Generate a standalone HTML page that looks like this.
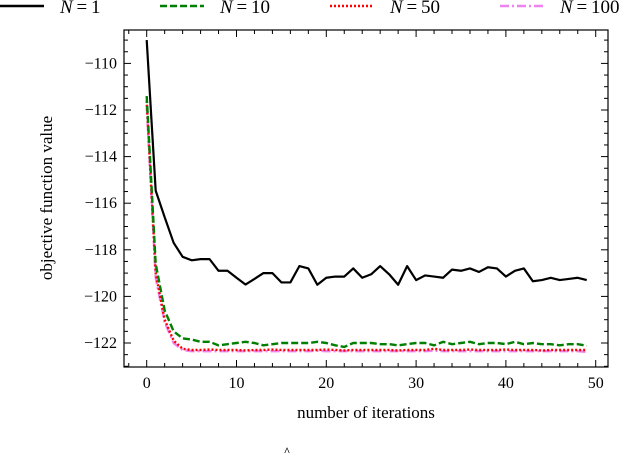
<!DOCTYPE html>
<html><head><meta charset="utf-8"><style>
body{margin:0;background:#fff;}
svg{display:block;font-family:"Liberation Serif",serif;}
</style></head><body>
<svg id="chart" width="640" height="453" viewBox="0 0 640 453" xmlns="http://www.w3.org/2000/svg"></svg>
<script>
const iterations = Array.from({length:50},(_,i)=>i);
const seriesN1 = [-109.0,-115.46,-116.6,-117.7,-118.3,-118.45,-118.4,-118.4,-118.9,-118.9,-119.2,-119.49,-119.25,-119.0,-119.0,-119.4,-119.4,-118.7,-118.8,-119.5,-119.2,-119.15,-119.15,-118.8,-119.2,-119.05,-118.7,-119.05,-119.5,-118.7,-119.3,-119.1,-119.15,-119.2,-118.85,-118.9,-118.8,-118.95,-118.75,-118.8,-119.15,-118.9,-118.8,-119.35,-119.3,-119.2,-119.3,-119.25,-119.2,-119.3];
const seriesN10 = [-111.4,-118.6,-120.6,-121.5,-121.8,-121.85,-121.95,-121.95,-122.1,-122.05,-122.0,-121.95,-122.0,-122.1,-122.05,-122.0,-122.0,-122.0,-122.0,-121.95,-122.0,-122.1,-122.17,-122.0,-122.0,-122.0,-122.05,-122.05,-122.1,-122.05,-122.0,-122.0,-122.1,-121.95,-122.05,-122.0,-121.95,-122.05,-122.0,-122.0,-122.05,-121.95,-122.05,-122.0,-122.05,-122.05,-122.1,-122.05,-122.05,-122.12];
const seriesN50 = [-111.6,-119.0,-121.0,-121.9,-122.25,-122.3,-122.3,-122.28,-122.3,-122.3,-122.3,-122.32,-122.3,-122.3,-122.28,-122.3,-122.3,-122.3,-122.3,-122.3,-122.28,-122.3,-122.32,-122.3,-122.3,-122.3,-122.3,-122.3,-122.32,-122.3,-122.3,-122.3,-122.25,-122.3,-122.3,-122.3,-122.28,-122.3,-122.3,-122.3,-122.28,-122.3,-122.3,-122.3,-122.32,-122.3,-122.3,-122.3,-122.3,-122.3];
const seriesN100 = [-111.8,-119.2,-121.1,-122.0,-122.3,-122.35,-122.35,-122.35,-122.35,-122.35,-122.35,-122.35,-122.35,-122.35,-122.35,-122.35,-122.35,-122.35,-122.35,-122.33,-122.35,-122.35,-122.35,-122.35,-122.35,-122.35,-122.35,-122.35,-122.35,-122.35,-122.35,-122.35,-122.33,-122.35,-122.35,-122.35,-122.35,-122.35,-122.35,-122.35,-122.35,-122.35,-122.35,-122.35,-122.35,-122.35,-122.35,-122.35,-122.35,-122.38];
const xTicks = [0,10,20,30,40,50];
const yTicks = [-110,-112,-114,-116,-118,-120,-122];
const legendLabels = ["1","10","50","100"];

const L=124,R=608,T=30,B=367;
const xs=v=>146.7+v*8.98;
const ys=v=>343-(v+122)*23.3;
const svg=document.getElementById('chart');
const NS='http://www.w3.org/2000/svg';
function mk(tag,attrs,parent){const e=document.createElementNS(NS,tag);for(const k in attrs)e.setAttribute(k,attrs[k]);(parent||svg).appendChild(e);return e;}

const frame=mk('rect',{x:L,y:T,width:R-L,height:B-T,fill:'none',stroke:'#000','stroke-width':1.2});



for(let v=-2;v<=52;v+=2){const x=xs(v);if(x<L||x>R)continue;const major=v%10===0;const len=major?7:4;
 mk('line',{x1:x,y1:B,x2:x,y2:B-len,stroke:'#000','stroke-width':1});
 mk('line',{x1:x,y1:T,x2:x,y2:T+len,stroke:'#000','stroke-width':1});}
xTicks.forEach(v=>{const t=mk('text',{x:xs(v),y:388,'text-anchor':'middle','font-size':16});t.textContent=v;
 
 });
for(let v=-123;v<=-108.5;v+=0.5){const y=ys(v);if(y<T||y>B)continue;const major=(v%2===0);const len=major?7:4;
 mk('line',{x1:L,y1:y,x2:L+len,y2:y,stroke:'#000','stroke-width':1});
 mk('line',{x1:R,y1:y,x2:R-len,y2:y,stroke:'#000','stroke-width':1});}
yTicks.forEach(v=>{const t=mk('text',{x:117,y:ys(v)+5,'text-anchor':'end','font-size':16});t.textContent='\u2212'+Math.abs(v);
 
 });

const xl=mk('text',{x:366,y:418,'text-anchor':'middle','font-size':17});xl.textContent='number of iterations';


const yl=mk('text',{x:52,y:198,'text-anchor':'middle','font-size':17,transform:'rotate(-90 52 198)'});yl.textContent='objective function value';


const hat=mk('text',{x:287,y:458,'text-anchor':'middle','font-size':16});hat.textContent='^';



const styles=[
 {c:'#000',d:'',w:2.2,name:'series-n1',data:seriesN1},
 {c:'#007f00',d:'7 3',w:2.4,name:'series-n10',data:seriesN10},
 {c:'#ff0000',d:'2 2',w:2.4,name:'series-n50',data:seriesN50},
 {c:'#ee82ee',d:'9 3 2 3',w:2.4,name:'series-n100',data:seriesN100}];
[3,2,1,0].forEach(i=>{const s=styles[i];
 const p=mk('polyline',{points:s.data.map((v,j)=>xs(iterations[j])+','+ys(v)).join(' '),fill:'none',stroke:s.c,'stroke-width':s.w,'stroke-dasharray':s.d,'stroke-linejoin':'round'});
 
 });

const lx=[0,160,330,500];
styles.forEach((s,i)=>{const g=mk('g',{});
 
 
 mk('line',{x1:lx[i],y1:6,x2:lx[i]+44,y2:6,stroke:s.c,'stroke-width':2.4,'stroke-dasharray':s.d},g);
 const t=mk('text',{x:lx[i]+60,y:13,'font-size':19},g);
 t.innerHTML='<tspan font-style="italic">N</tspan>\u2009=\u2009'+legendLabels[i];});
</script>
</body></html>
